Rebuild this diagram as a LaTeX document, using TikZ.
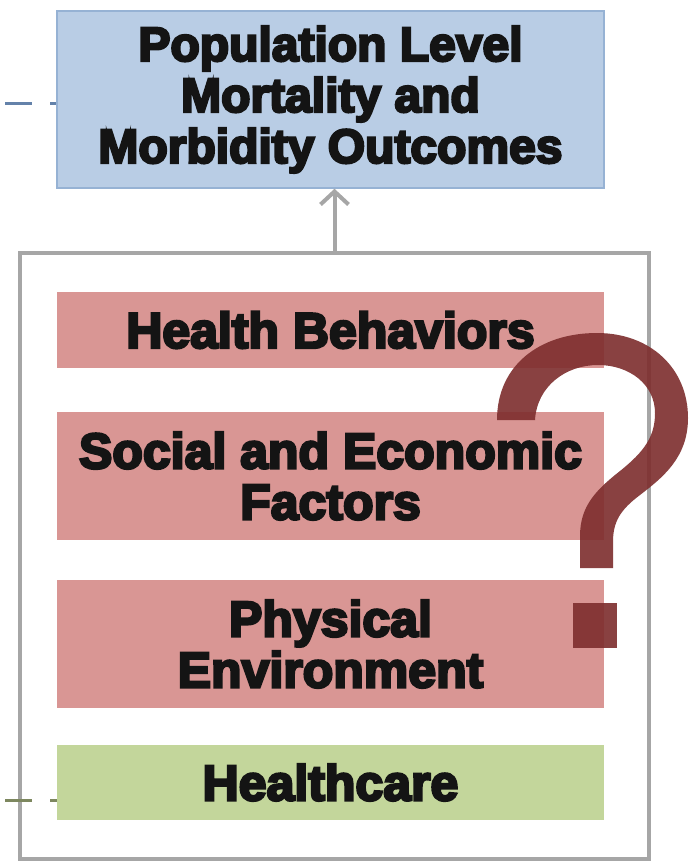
\documentclass[tikz,border=0pt]{standalone}
\usepackage{fontspec}
\setmainfont{Liberation Sans}
\newfontfamily\heavyfont{Liberation Sans Bold}[FakeBold=5]
\usetikzlibrary{arrows.meta}
\definecolor{boxblue}{RGB}{185,205,229}
\definecolor{blueedge}{RGB}{150,178,212}
\definecolor{boxpink}{RGB}{217,150,148}
\definecolor{boxgreen}{RGB}{195,214,155}
\definecolor{framegray}{RGB}{166,166,166}
\definecolor{qred}{RGB}{125,45,45}
\definecolor{dashblue}{RGB}{100,130,170}
\definecolor{dashgreen}{RGB}{125,135,95}
\begin{document}
\begin{tikzpicture}[x=1pt,y=-1pt,
  caption/.style={font=\heavyfont\fontsize{50}{51}\selectfont, align=center, text=black!92},
  bar/.style={caption, inner sep=0pt, minimum width=547pt},
  link/.style={draw=framegray, line width=4pt},
  tick/.style={line width=3pt, dash pattern=on 27pt off 18pt},
  qmark/.style={fill=qred, fill opacity=0.9}]
\useasboundingbox (0,0) rectangle (690,862);
\fill[white] (0,0) rectangle (690,862);

% outcome box
\node[bar, fill=boxblue, draw=blueedge, line width=1.5pt, minimum height=177pt,
  font=\heavyfont\fontsize{48}{51}\selectfont]
  (outcome) at (330.5,99.5) {Population Level\\Mortality and\\Morbidity Outcomes};

% enclosing frame of determinants
\node[draw=framegray, line width=4pt, minimum width=629pt, minimum height=606pt, inner sep=0pt]
  (frame) at (334.5,556) {};
\draw[link, -{Straight Barb[length=13pt,width=28pt]}] (frame.north) -- (frame.north |- outcome.south);

% determinant bars
\node[bar, fill=boxpink, minimum height=76pt]  (behav)  at (330.5,330) {Health Behaviors};
\node[bar, fill=boxpink, minimum height=128pt] (social) at (330.5,476) {Social and Economic\\Factors};
\node[bar, fill=boxpink, minimum height=128pt] (phys)   at (330.5,644) {Physical\\Environment};
\node[bar, fill=boxgreen, minimum height=75pt] (care)   at (330.5,782.5) {Healthcare};

% dashed stubs on the left
\coordinate (d1) at (5,103);
\coordinate (d2) at (5,800);
\draw[tick, draw=dashblue] (d1) -- (outcome.west |- d1);
\draw[tick, draw=dashgreen] (d2) -- (care.west |- d2);

% large question mark over the right side
\path[qmark] (497,420) .. controls (497,365) and (540,333) .. (597,333)
  .. controls (650,333) and (688,368) .. (688,418)
  .. controls (688,458) and (662,478) .. (640,495)
  .. controls (620,510) and (613,522) .. (613,542)
  -- (613,568) -- (580,568) -- (580,536)
  .. controls (580,506) and (596,490) .. (620,471)
  .. controls (645,451) and (655,436) .. (655,413)
  .. controls (655,385) and (630,365) .. (598,365)
  .. controls (566,365) and (537,386) .. (535,420)
  -- cycle;
\path[qmark] (573,603) rectangle (617,648);
\end{tikzpicture}
\end{document}
